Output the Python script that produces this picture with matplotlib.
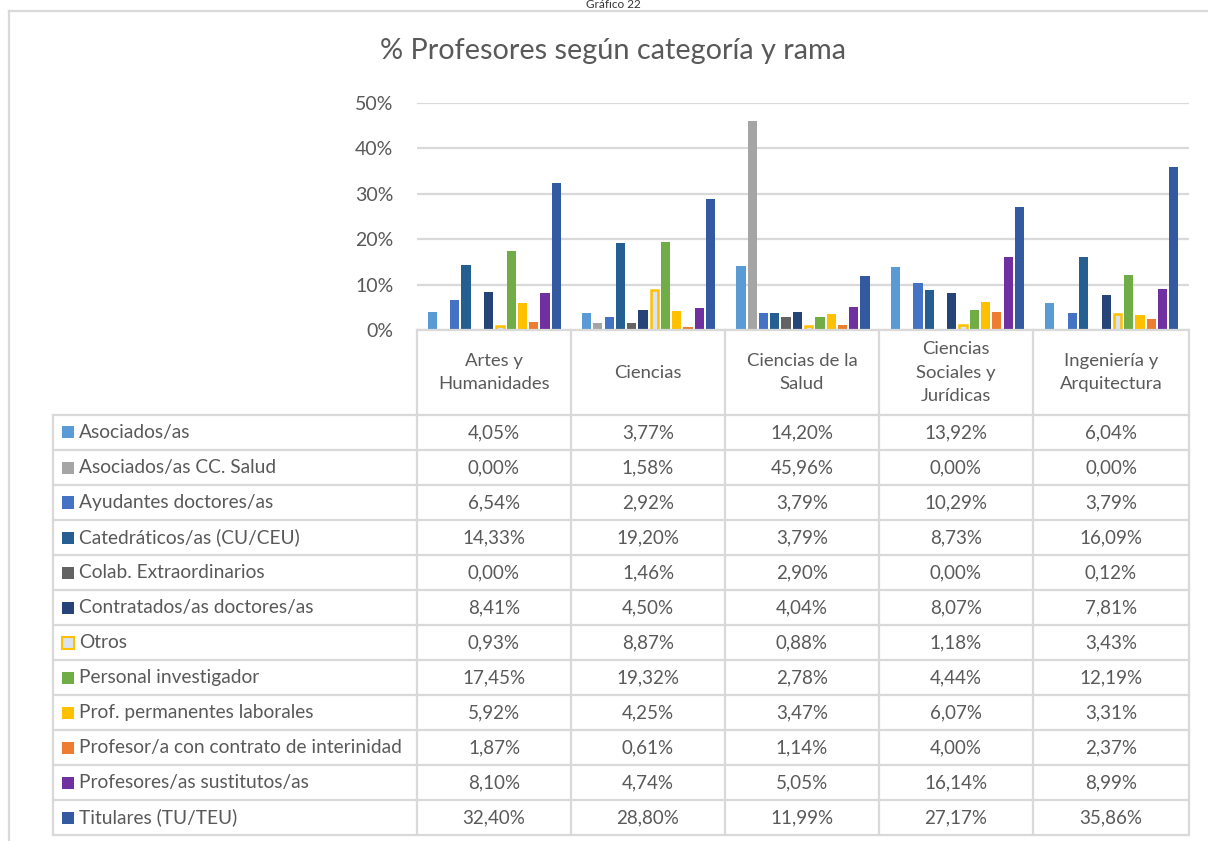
import matplotlib.pyplot as plt
import numpy as np

ramas = ["Artes y\nHumanidades", "Ciencias", "Ciencias de la\nSalud",
         "Ciencias\nSociales y\nJurídicas", "Ingeniería y\nArquitectura"]

categorias = ["Asociados/as", "Asociados/as CC. Salud", "Ayudantes doctores/as",
              "Catedráticos/as (CU/CEU)", "Colab. Extraordinarios",
              "Contratados/as doctores/as", "Otros", "Personal investigador",
              "Prof. permanentes laborales", "Profesor/a con contrato de interinidad",
              "Profesores/as sustitutos/as", "Titulares (TU/TEU)"]

asociados = [4.05, 3.77, 14.20, 13.92, 6.04]
asociados_salud = [0.00, 1.58, 45.96, 0.00, 0.00]
ayudantes = [6.54, 2.92, 3.79, 10.29, 3.79]
catedraticos = [14.33, 19.20, 3.79, 8.73, 16.09]
colab = [0.00, 1.46, 2.90, 0.00, 0.12]
contratados = [8.41, 4.50, 4.04, 8.07, 7.81]
otros = [0.93, 8.87, 0.88, 1.18, 3.43]
investigador = [17.45, 19.32, 2.78, 4.44, 12.19]
permanentes = [5.92, 4.25, 3.47, 6.07, 3.31]
interinidad = [1.87, 0.61, 1.14, 4.00, 2.37]
sustitutos = [8.10, 4.74, 5.05, 16.14, 8.99]
titulares = [32.40, 28.80, 11.99, 27.17, 35.86]

series = [asociados, asociados_salud, ayudantes, catedraticos, colab, contratados,
          otros, investigador, permanentes, interinidad, sustitutos, titulares]

colores = ["#5B9BD5", "#A5A5A5", "#4472C4", "#255E91", "#636363", "#264478",
           "#DAE3F3", "#70AD47", "#FFC000", "#ED7D31", "#7030A0", "#335AA1"]

plt.rcParams['font.family'] = ['Lato', 'DejaVu Sans']
txt = "#595959"
linea = "#D9D9D9"

W, H = 1208, 841
fig = plt.figure(figsize=(W / 100, H / 100), dpi=100)


def fx(px):
    return px / W


def fy(py):
    return 1 - py / H


# bar area
x0, x1, ytop, ybot = 417, 1189, 103, 330
ax = fig.add_axes([fx(x0), fy(ybot), fx(x1) - fx(x0), fy(ytop) - fy(ybot)])
n = len(series)
slot = 11.25 / 154
ancho = 9.2 / 154
pos = np.arange(len(ramas)) + 0.5
for i, (vals, c) in enumerate(zip(series, colores)):
    xs = pos + (i - (n - 1) / 2) * slot
    v = np.array(vals) / 100
    if categorias[i] == "Otros":
        ax.bar(xs, v, width=ancho - 0.012, color=c, edgecolor="#FFC000", linewidth=1.8, zorder=3)
    else:
        ax.bar(xs, v, width=ancho, color=c, zorder=3)
ax.set_xlim(0, len(ramas))
ax.set_ylim(0, 0.5)
ticks = np.arange(0, 0.51, 0.1)
ax.set_yticks(ticks)
ax.set_yticklabels([f"{round(t * 100)}%" for t in ticks])
ax.tick_params(axis='y', length=0, labelsize=14, labelcolor=txt, pad=17)
ax.set_xticks([])
ax.grid(axis='y', color=linea, linewidth=1.6, zorder=0)
for s in ax.spines.values():
    s.set_visible(False)

# frame of the chart
fig.add_artist(plt.Line2D([fx(9), fx(9)], [fy(11), fy(841)], color=linea, lw=1.6))
fig.add_artist(plt.Line2D([fx(9), fx(1208)], [fy(11), fy(11)], color=linea, lw=1.6))

fig.text(fx(613), fy(9.5), "Gráfico 22", ha='center', va='bottom', fontsize=8.5, color="#333333")
fig.text(fx(613), fy(51), "% Profesores según categoría y rama", ha='center', va='center',
         fontsize=20.8, color=txt)

# data table
cols = [417, 571, 725, 879, 1033, 1189]
row0, rh = 415, 35
row_end = row0 + rh * len(categorias)
left = 53


def hline(y, xa, xb):
    fig.add_artist(plt.Line2D([fx(xa), fx(xb)], [fy(y), fy(y)], color=linea, lw=1.6))


def vline(x, ya, yb):
    fig.add_artist(plt.Line2D([fx(x), fx(x)], [fy(ya), fy(yb)], color=linea, lw=1.6))


hline(ybot, cols[0], cols[-1])
for r in range(len(categorias) + 1):
    hline(row0 + r * rh, left, cols[-1])
for c in cols:
    vline(c, ybot, row_end)
vline(left, row0, row_end)

for j, rama in enumerate(ramas):
    fig.text(fx((cols[j] + cols[j + 1]) / 2), fy((ybot + row0) / 2), rama, ha='center',
             va='center', fontsize=13.3, color=txt, linespacing=1.6)

for i, (cat, vals, c) in enumerate(zip(categorias, series, colores)):
    yc = row0 + rh * (i + 0.5)
    ec = "#FFC000" if cat == "Otros" else c
    fig.add_artist(plt.Rectangle((fx(62), fy(yc + 6)), fx(12), fy(0) - fy(12),
                                 facecolor=c, edgecolor=ec, lw=1.5 if cat == "Otros" else 0))
    fig.text(fx(79), fy(yc), cat, ha='left', va='center', fontsize=13.8, color=txt)
    for j, v in enumerate(vals):
        s = f"{v:.2f}%".replace(".", ",")
        fig.text(fx((cols[j] + cols[j + 1]) / 2), fy(yc), s, ha='center', va='center',
                 fontsize=13.5, color=txt)

fig.savefig("out.png", dpi=100)
